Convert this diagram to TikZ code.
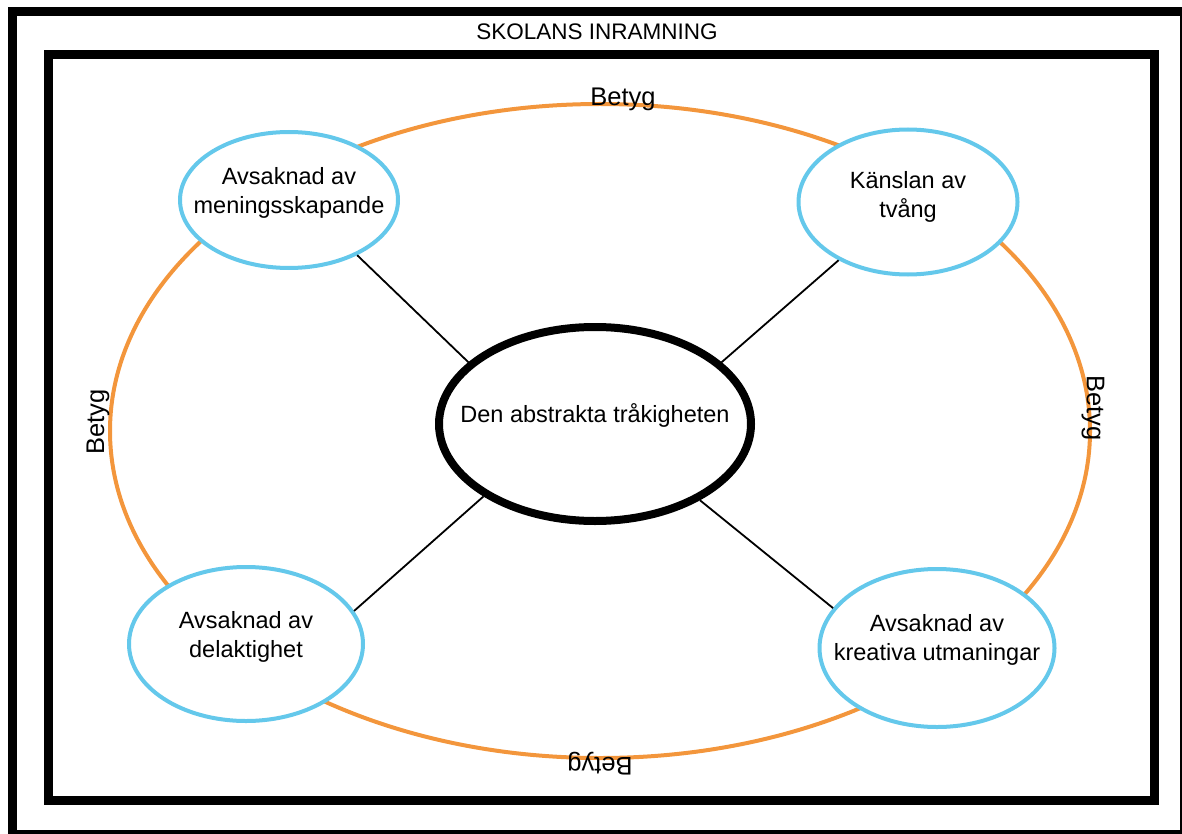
\documentclass[tikz,border=0pt]{standalone}
\usepackage{fontspec}
\setmainfont{Liberation Sans}
\usetikzlibrary{shapes.geometric}
\definecolor{ringorange}{RGB}{243,150,60}
\definecolor{bubbleblue}{RGB}{100,200,235}
\begin{document}
\begin{tikzpicture}[x=1pt,y=-1pt,
  frame/.style={line width=9pt},
  ring/.style={draw=ringorange,line width=4pt},
  bubble/.style={ellipse,draw=bubbleblue,line width=4pt,fill=white,inner sep=0pt},
  core/.style={ellipse,draw=black,line width=8pt,fill=white,inner sep=0pt},
  caption/.style={font=\fontsize{23.5}{29}\selectfont,align=center,text=black,inner sep=0pt},
  grade/.style={font=\fontsize{25.5}{30}\selectfont,inner sep=0pt},
  link/.style={line width=1.8pt}]
\useasboundingbox (0,0) rectangle (1182,834);
\clip (0,0) rectangle (1182,834);
% frames
\draw[frame] (12,12) rectangle (1184.5,834.5);
\draw[frame] (48,55) rectangle (1154.5,800.5);
\node[font=\fontsize{22.5}{27}\selectfont,inner sep=0pt] (title) at (597,32) {SKOLANS INRAMNING};
% grading ring
\draw[ring] (600,431) ellipse [x radius=490, y radius=327];
\node[grade] (gtop) at (623,99) {Betyg};
\node[grade,rotate=90] (gleft) at (98,422) {Betyg};
\node[grade,rotate=-90] (gright) at (1093,408) {Betyg};
\node[grade,rotate=180] (gbottom) at (600,764) {Betyg};
% centre and satellites
\node[core,minimum width=312pt,minimum height=194pt,
  label={[caption,yshift=9pt]center:Den abstrakta tråkigheten}] (core) at (595,424) {};
\node[bubble,minimum width=218pt,minimum height=136pt,
  label={[caption,yshift=7pt]center:Avsaknad av\\meningsskapande}] (tl) at (289,200) {};
\node[bubble,minimum width=219pt,minimum height=145pt,
  label={[caption,yshift=5pt]center:Känslan av\\tvång}] (tr) at (908,202) {};
\node[bubble,minimum width=234pt,minimum height=154pt,
  label={[caption,yshift=7pt]center:Avsaknad av\\delaktighet}] (bl) at (246,644) {};
\node[bubble,minimum width=235pt,minimum height=158pt,
  label={[caption,yshift=8pt]center:Avsaknad av\\kreativa utmaningar}] (br) at (937,648) {};
% links
\draw[link] (tl.-39) -- (core.154);
\draw[link] (tr.-140) -- (core.26);
\draw[link] (bl.17) -- (core.-147);
\draw[link] (br.159) -- (core.-36);
\end{tikzpicture}
\end{document}
